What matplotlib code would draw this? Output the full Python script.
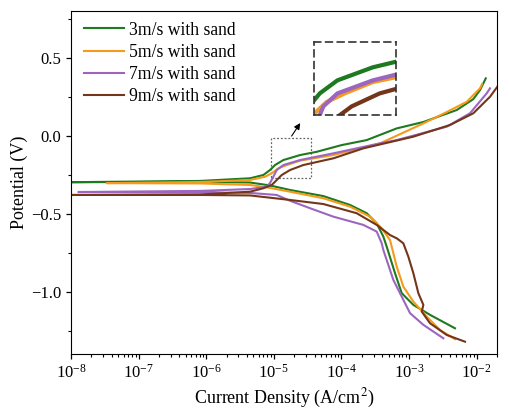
import numpy as np
import matplotlib
matplotlib.use("Agg")
import matplotlib.pyplot as plt
from matplotlib.patches import Rectangle
from matplotlib.ticker import NullFormatter, NullLocator

plt.rcParams["font.family"] = ["Liberation Serif", "DejaVu Serif"]
plt.rcParams["mathtext.fontset"] = "stix"

# Polarization curves: log10 of current density (A/cm2) and potential (V)
# each curve runs from the cathodic end, through Ecorr, to the anodic end
labels = ["3m/s with sand", "5m/s with sand", "7m/s with sand", "9m/s with sand"]
colors = ["#1e7a1e", "#f59a1c", "#9c66c0", "#74361a"]

logi_3 = [-2.320, -2.689, -2.936, -3.108, -3.207, -3.330, -3.380, -3.478, -3.626,
          -3.873, -4.268, -4.760, -5.056, -5.352, -6.092, -8.0,
          -6.092, -5.352, -5.155, -5.056, -4.982, -4.859, -4.612, -4.365, -3.996,
          -3.626, -3.182, -2.788, -2.294, -2.049, -1.950, -1.865]
e_3 = [-1.235, -1.149, -1.085, -1.010, -0.882, -0.712, -0.647, -0.562, -0.497,
       -0.444, -0.387, -0.348, -0.319, -0.300, -0.296, -0.298,
       -0.290, -0.273, -0.252, -0.220, -0.188, -0.156, -0.124, -0.103, -0.060,
       -0.028, 0.047, 0.088, 0.165, 0.235, 0.293, 0.368]

logi_5 = [-2.320, -2.541, -2.738, -2.936, -3.084, -3.182, -3.281, -3.404, -3.577,
          -3.873, -4.268, -4.760, -5.105, -5.352, -6.092, -7.472,
          -6.092, -5.352, -5.130, -5.031, -4.933, -4.809, -4.612, -4.120, -3.429,
          -2.788, -2.442, -2.146, -1.950, -1.920]
e_5 = [-1.305, -1.246, -1.160, -1.064, -0.968, -0.840, -0.669, -0.594, -0.519,
       -0.455, -0.401, -0.359, -0.331, -0.316, -0.306, -0.304,
       -0.297, -0.284, -0.263, -0.241, -0.209, -0.188, -0.160, -0.124, -0.049,
       0.079, 0.152, 0.218, 0.304, 0.331]

logi_7 = [-2.493, -2.788, -2.985, -3.084, -3.232, -3.380, -3.404, -3.478, -3.676,
          -4.120, -4.464, -4.760, -4.957, -5.352, -6.092, -7.892,
          -6.092, -5.352, -5.105, -5.056, -5.007, -4.957, -4.859, -4.612, -4.120,
          -3.429, -3.182, -2.442, -2.098, -1.851, -1.802]
e_7 = [-1.299, -1.213, -1.138, -1.053, -0.925, -0.733, -0.690, -0.615, -0.572,
       -0.519, -0.465, -0.417, -0.380, -0.367, -0.363, -0.361,
       -0.354, -0.342, -0.327, -0.303, -0.263, -0.220, -0.188, -0.156, -0.113,
       -0.049, -0.028, 0.058, 0.144, 0.272, 0.304]

logi_9 = [-2.172, -2.442, -2.689, -2.812, -2.788, -2.862, -2.936, -3.010, -3.084,
          -3.178, -3.281, -3.478, -3.774, -4.268, -4.760, -5.352, -6.092, -8.0,
          -6.092, -5.352, -5.155, -5.031, -4.957, -4.883, -4.760, -4.564, -4.120,
          -3.676, -2.936, -2.393, -2.049, -1.802, -1.654]
e_9 = [-1.321, -1.278, -1.203, -1.128, -1.085, -1.010, -0.882, -0.776, -0.690,
       -0.659, -0.637, -0.572, -0.497, -0.438, -0.412, -0.383, -0.380, -0.380,
       -0.377, -0.359, -0.337, -0.316, -0.284, -0.252, -0.220, -0.188, -0.145,
       -0.081, -0.006, 0.069, 0.144, 0.250, 0.338]

decades = [1e-8, 1e-7, 1e-6, 1e-5, 1e-4, 1e-3, 1e-2]

curves = [(logi_3, e_3), (logi_5, e_5), (logi_7, e_7), (logi_9, e_9)]

fig = plt.figure(figsize=(5.09, 4.18), dpi=100)
ax = fig.add_axes([0.1395, 0.1531, 0.8369, 0.8206])

for (li, e), c, lab in zip(curves, colors, labels):
    ax.plot(np.power(10.0, li), e, color=c, lw=1.5, label=lab)

ax.set_xscale("log")
ax.set_xlim(1e-8, 2e-2)
ax.set_xticks(decades)
ax.xaxis.set_minor_formatter(NullFormatter())
ax.set_ylim(-1.4, 0.8)
ax.set_yticks([-1.0, -0.5, 0.0, 0.5])
ax.set_yticklabels(["\u22121.0", "\u22120.5", "0.0", "0.5"])
ax.set_yticks([-1.25, -0.75, -0.25, 0.25, 0.75], minor=True)
ax.tick_params(which="both", direction="out", labelsize=12, top=False, right=False)
ax.tick_params(which="major", length=3.5, width=0.9)
ax.tick_params(which="minor", length=2, width=0.8)
ax.set_xlabel("Current Density (A/cm$^2$)", fontsize=13)
ax.set_ylabel("Potential (V)", fontsize=13, labelpad=2)

leg = ax.legend(loc="upper left", frameon=False, fontsize=12.7, handlelength=2.3,
                handletextpad=0.25, labelspacing=0.3, borderaxespad=0.2,
                bbox_to_anchor=(0.005, 1.0))

# dotted box marking the zoom region and arrow to the inset
x0, x1 = 10 ** -5.046, 10 ** -4.454
ax.add_patch(Rectangle((x0, -0.273), x1 - x0, 0.256, fill=False,
                       ls=(0, (1.5, 1.5)), lw=0.9, ec="#666666"))
ax.annotate("", xy=(2.59e-5, 0.096), xytext=(1.74e-5, -0.017),
            arrowprops=dict(arrowstyle="-|>", color="black", lw=0.8,
                            mutation_scale=9))

# inset
axi = fig.add_axes([0.6175, 0.7249, 0.1605, 0.1754])
for (li, e), c in zip(curves, colors):
    axi.plot(np.power(10.0, li), e, color=c, lw=3.0)
axi.set_xscale("log")
axi.set_xlim(10 ** -5.02, 10 ** -4.45)
axi.set_ylim(-0.241, -0.061)
axi.xaxis.set_major_locator(NullLocator())
axi.xaxis.set_minor_locator(NullLocator())
axi.yaxis.set_major_locator(NullLocator())
for s in axi.spines.values():
    s.set_linestyle((0, (4, 3)))
    s.set_linewidth(1.2)
    s.set_edgecolor("#333333")

fig.savefig("out.png", dpi=100)
